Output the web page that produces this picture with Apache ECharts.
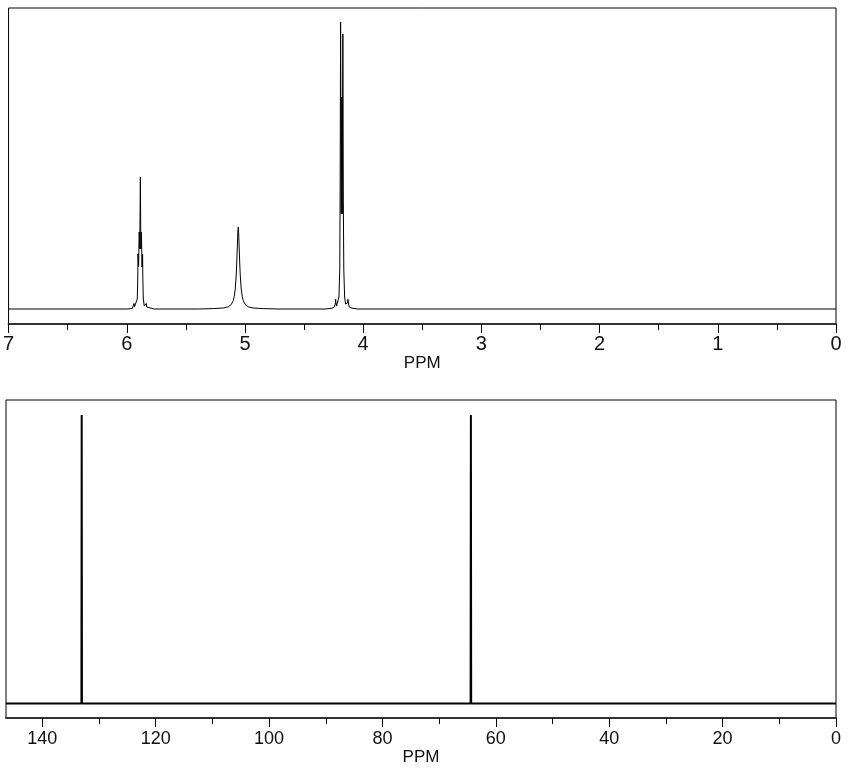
<!DOCTYPE html>
<html>
<head>
<meta charset="utf-8">
<script src="https://cdn.jsdelivr.net/npm/echarts@6/dist/echarts.min.js"></script>
<style>
html,body{margin:0;padding:0;background:#fff;}
#chart{width:855px;height:769px;}
</style>
</head>
<body>
<div id="chart"></div>
<script>
// 1H spectrum: [ppm, intensity] (baseline = 0)
const protonSpectrum = [
  [7.0, 0], [5.999, 0], [5.953, 0.5], [5.943, 2], [5.939, 5.5], [5.935, 2], [5.928, 1.5],
  [5.920, 3], [5.911, 10], [5.907, 30], [5.905, 55], [5.900, 42], [5.895, 77], [5.890, 60],
  [5.885, 132], [5.881, 60], [5.876, 77], [5.871, 42], [5.866, 55], [5.864, 30], [5.860, 10],
  [5.852, 3], [5.843, 1.5], [5.839, 2], [5.835, 5.5], [5.831, 2], [5.818, 0.5], [5.768, 0],
  [5.395, 0], [5.268, 0.4], [5.184, 1.0], [5.141, 2.2], [5.116, 4.5], [5.099, 8.5], [5.091, 12.5],
  [5.082, 20], [5.074, 34], [5.070, 45], [5.065, 61], [5.061, 75], [5.057, 82], [5.053, 75],
  [5.049, 61], [5.044, 45], [5.040, 34], [5.032, 20], [5.023, 12.5], [5.015, 8.5], [4.998, 4.5],
  [4.973, 2.2], [4.930, 1.0], [4.846, 0.4], [4.719, 0],
  [4.315, 0], [4.264, 0.8], [4.243, 2], [4.235, 6], [4.233, 9.7], [4.230, 6], [4.225, 3],
  [4.213, 5], [4.205, 12], [4.198, 40], [4.195, 120], [4.191, 287], [4.186, 95], [4.181, 212],
  [4.177, 95], [4.172, 275], [4.168, 110], [4.164, 40], [4.157, 12], [4.149, 5], [4.139, 3],
  [4.132, 6], [4.129, 9.7], [4.125, 6], [4.118, 2], [4.095, 0.8], [4.045, 0], [0.0, 0]
];
// 13C spectrum: [ppm, intensity]
const carbonSpectrum = [
  [146.4, 0], [133.1, 0], [133.05, 288.5], [133.0, 0],
  [64.45, 0], [64.4, 288.5], [64.35, 0], [0, 0]
];
// axis ticks
const protonMajorTicks = [0, 1, 2, 3, 4, 5, 6, 7];
const protonMinorTicks = [0.5, 1.5, 2.5, 3.5, 4.5, 5.5, 6.5];
const carbonMajorTicks = [0, 20, 40, 60, 80, 100, 120, 140];
const carbonMinorTicks = [10, 30, 50, 70, 90, 110, 130];
const axisTitle = 'PPM';

const FONT = 'Liberation Sans, Arial, sans-serif';
const chart = echarts.init(document.getElementById('chart'), null, {renderer: 'canvas'});

function majorAxis(gridIndex, max, ticks, fontSize, margin, nameGap) {
  return {
    type: 'value', gridIndex, min: 0, max, inverse: true, position: 'bottom',
    splitLine: {show: false},
    axisLine: {show: true, onZero: false, lineStyle: {color: '#333', width: 2}},
    axisTick: {show: true, length: 9, customValues: ticks, lineStyle: {color: '#000', width: 1}},
    axisLabel: {show: true, customValues: ticks, fontSize, fontFamily: FONT, color: '#111', margin},
    name: axisTitle, nameLocation: 'middle', nameGap,
    nameTextStyle: {fontSize: 17, fontFamily: FONT, color: '#111'}
  };
}
function minorAxis(gridIndex, max, ticks) {
  return {
    type: 'value', gridIndex, min: 0, max, inverse: true, position: 'bottom',
    splitLine: {show: false},
    axisLine: {show: false, onZero: false},
    axisTick: {show: true, length: 6, customValues: ticks, lineStyle: {color: '#000', width: 1}},
    axisLabel: {show: false}
  };
}

chart.setOption({
  animation: false,
  backgroundColor: '#fff',
  grid: [
    {left: 6, right: 19, top: 8, height: 316, show: true, borderColor: '#000', borderWidth: 1, backgroundColor: 'transparent'},
    {left: 6, right: 19, top: 400, height: 318, show: true, borderColor: '#000', borderWidth: 1, backgroundColor: 'transparent'}
  ],
  xAxis: [
    majorAxis(0, 7, protonMajorTicks, 20, 10, 30),
    minorAxis(0, 7, protonMinorTicks),
    majorAxis(1, 146.4, carbonMajorTicks, 18, 12, 31),
    minorAxis(1, 146.4, carbonMinorTicks)
  ],
  yAxis: [
    {type: 'value', gridIndex: 0, min: -15, max: 301, show: false, splitLine: {show: false}},
    {type: 'value', gridIndex: 1, min: -14.5, max: 303.5, show: false, splitLine: {show: false}}
  ],
  series: [
    {type: 'line', xAxisIndex: 0, yAxisIndex: 0, data: protonSpectrum, showSymbol: false, symbol: 'none',
     sampling: null, lineStyle: {color: '#000', width: 1}, silent: true},
    {type: 'line', xAxisIndex: 2, yAxisIndex: 1, data: carbonSpectrum, showSymbol: false, symbol: 'none',
     lineStyle: {color: '#000', width: 2}, silent: true}
  ]
});
</script>
</body>
</html>
